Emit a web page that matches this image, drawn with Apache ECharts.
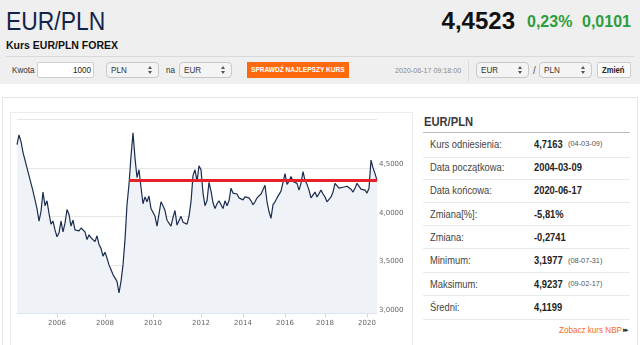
<!DOCTYPE html>
<html>
<head>
<meta charset="utf-8">
<script src="https://cdn.jsdelivr.net/npm/echarts@6/dist/echarts.min.js"></script>
<style>
body{margin:0;width:640px;height:345px;overflow:hidden;background:#fff;font-family:'Liberation Sans',Arial,sans-serif;position:relative}
.t{position:absolute;white-space:nowrap;line-height:1;transform-origin:0 50%}
.box{position:absolute;box-sizing:border-box}
.sel{position:absolute;box-sizing:border-box;height:16px;top:62px;border:1px solid #c8c8c8;border-radius:4px;background:#f4f4f4}
.sel::before{content:'';position:absolute;right:6px;top:3px;border-left:2.5px solid transparent;border-right:2.5px solid transparent;border-bottom:3px solid #555}
.sel::after{content:'';position:absolute;right:6px;top:8px;border-left:2.5px solid transparent;border-right:2.5px solid transparent;border-top:3px solid #555}
.lab{font-size:11px;color:#444;transform:scaleX(.85)}
.val{font-size:11px;color:#222;font-weight:bold;transform:scaleX(.85)}
.sm{font-size:8px;color:#555;transform:scaleX(.92)}
.sep{position:absolute;left:423px;width:207px;height:1px;background:#e9e9e9}
#chart{position:absolute;left:0;top:0;width:640px;height:345px;z-index:5;pointer-events:none}
</style>
</head>
<body>
<!-- header -->
<div class="box" style="left:0;top:0;width:640px;height:84px;background:#efefef"></div>
<div class="t" style="left:6px;top:8px;font-size:26px;color:#12244a;transform:scaleX(.88)">EUR/PLN</div>
<div class="t" style="left:6px;top:40px;font-size:10.5px;font-weight:bold;color:#111">Kurs EUR/PLN FOREX</div>
<div class="t" style="right:125px;top:9px;font-size:24px;font-weight:bold;color:#111;transform-origin:100% 50%">4,4523</div>
<div class="t" style="left:527px;top:14px;font-size:16px;font-weight:bold;color:#2e9d3c">0,23%</div>
<div class="t" style="left:582px;top:14px;font-size:16px;font-weight:bold;color:#2e9d3c">0,0101</div>
<div class="box" style="left:6px;top:56px;width:628px;height:1px;background:#d9d9d9"></div>

<!-- controls -->
<div class="t" style="left:12px;top:65.5px;font-size:9px;color:#333;transform:scaleX(.9)">Kwota</div>
<div class="box" style="left:37px;top:62px;width:57px;height:16px;background:#fff;border:1px solid #cfcfcf;border-radius:2px"></div>
<div class="t" style="right:549px;top:65.5px;font-size:9px;color:#222;transform-origin:100% 50%;transform:scaleX(.9)">1000</div>
<div class="sel" style="left:106px;width:53px"></div>
<div class="t" style="left:111px;top:65.5px;font-size:9px;color:#333;transform:scaleX(.9)">PLN</div>
<div class="t" style="left:165.5px;top:65.5px;font-size:9px;color:#333;transform:scaleX(.9)">na</div>
<div class="sel" style="left:179px;width:53px"></div>
<div class="t" style="left:184px;top:65.5px;font-size:9px;color:#333;transform:scaleX(.9)">EUR</div>
<div class="box" style="left:247px;top:62px;width:102px;height:16px;background:#ff6a0e"></div>
<div class="t" style="left:251px;top:66px;font-size:8px;font-weight:bold;color:#fff;transform:scaleX(.82)">SPRAWDŹ NAJLEPSZY KURS</div>
<div class="t" style="left:395px;top:67px;font-size:8px;color:#8a8a8a;transform:scaleX(.89)">2020-06-17 09:18:00</div>
<div class="box" style="left:468px;top:60px;width:1px;height:22px;background:#dcdcdc"></div>
<div class="sel" style="left:476px;width:53px"></div>
<div class="t" style="left:481px;top:65.5px;font-size:9px;color:#333;transform:scaleX(.9)">EUR</div>
<div class="t" style="left:533px;top:65.5px;font-size:10px;color:#555">/</div>
<div class="sel" style="left:539px;width:53px"></div>
<div class="t" style="left:544px;top:65.5px;font-size:9px;color:#333;transform:scaleX(.9)">PLN</div>
<div class="box" style="left:597px;top:62px;width:34px;height:16px;background:#fafafa;border:1px solid #cccccc;border-radius:2px"></div>
<div class="t" style="left:602px;top:66px;font-size:8.5px;font-weight:bold;color:#222;transform:scaleX(.9)">Zmień</div>

<!-- containers -->
<div class="box" style="left:2px;top:97px;width:636px;height:270px;border:1.5px solid #e6e6e6;background:#fff"></div>
<div class="box" style="left:10px;top:112px;width:403px;height:260px;border:1px solid #ececec;background:#fff"></div>

<!-- right panel -->
<div class="t" style="left:424px;top:115px;font-size:13px;font-weight:bold;color:#3a3a3a;transform:scaleX(.86)">EUR/PLN</div>
<div class="box" style="left:423px;top:132px;width:207px;height:1px;background:#bcbcbc"></div>

<div class="t lab" style="left:430px;top:138.8px">Kurs odniesienia:</div>
<div class="t val" style="left:534px;top:138.8px">4,7163</div>
<div class="t sm" style="left:568px;top:140.3px">(04-03-09)</div>
<div class="sep" style="top:156.5px"></div>

<div class="t lab" style="left:430px;top:162.1px">Data początkowa:</div>
<div class="t val" style="left:534px;top:162.1px">2004-03-09</div>
<div class="sep" style="top:179.3px"></div>

<div class="t lab" style="left:430px;top:185.4px">Data końcowa:</div>
<div class="t val" style="left:534px;top:185.4px">2020-06-17</div>
<div class="sep" style="top:202px"></div>

<div class="t lab" style="left:430px;top:208.7px">Zmiana[%]:</div>
<div class="t val" style="left:534px;top:208.7px">-5,81%</div>
<div class="sep" style="top:225px"></div>

<div class="t lab" style="left:430px;top:232px">Zmiana:</div>
<div class="t val" style="left:534px;top:232px">-0,2741</div>
<div class="sep" style="top:248px"></div>

<div class="t lab" style="left:430px;top:255.3px">Minimum:</div>
<div class="t val" style="left:534px;top:255.3px">3,1977</div>
<div class="t sm" style="left:568px;top:256.8px">(08-07-31)</div>
<div class="sep" style="top:271.7px"></div>

<div class="t lab" style="left:430px;top:278.5px">Maksimum:</div>
<div class="t val" style="left:534px;top:278.5px">4,9237</div>
<div class="t sm" style="left:568px;top:280px">(09-02-17)</div>
<div class="sep" style="top:295px"></div>

<div class="t lab" style="left:430px;top:301.8px">Średni:</div>
<div class="t val" style="left:534px;top:301.8px">4,1199</div>
<div class="sep" style="top:319px"></div>

<div class="t" style="left:559px;top:325.5px;font-size:9px;color:#f26a2a;transform:scaleX(.9)">Zobacz kurs NBP</div>
<div class="t" style="left:623px;top:326px;font-size:7px;color:#333;letter-spacing:-2px">▸▸</div>

<div id="chart"></div>
<script>
// EUR/PLN exchange rate at regular steps
const rates = [
  4.74, 4.84, 4.77, 4.66, 4.58, 4.50, 4.42, 4.34, 4.26, 4.17,
  4.08, 3.95, 4.05, 4.25, 4.11, 4.16, 4.03, 3.92, 3.95, 3.86,
  3.79, 3.83, 3.95, 3.84, 3.93, 4.07, 4.02, 3.90, 3.96, 3.86,
  3.84, 3.85, 3.88, 3.88, 3.84, 3.76, 3.81, 3.78, 3.79, 3.74,
  3.80, 3.71, 3.67, 3.59, 3.63, 3.57, 3.50, 3.45, 3.40, 3.38,
  3.33, 3.21, 3.33, 3.50, 3.76, 4.12, 4.33, 4.62, 4.86, 4.60,
  4.40, 4.48, 4.30, 4.13, 4.20, 4.15, 4.21, 4.08, 4.09, 4.00,
  3.90, 3.88, 4.15, 4.11, 4.06, 3.96, 3.94, 3.90, 3.99, 4.06,
  3.91, 3.90, 4.00, 3.94, 3.96, 3.92, 4.00, 4.15, 4.42, 4.48,
  4.36, 4.52, 4.48, 4.24, 4.11, 4.16, 4.35, 4.26, 4.14, 4.08,
  4.13, 4.16, 4.12, 4.08, 4.16, 4.11, 4.16, 4.29, 4.24, 4.24,
  4.23, 4.19, 4.20, 4.17, 4.20, 4.21, 4.19, 4.16, 4.12, 4.15,
  4.19, 4.21, 4.23, 4.24, 4.32, 4.15, 4.05, 3.98, 4.12, 4.15,
  4.19, 4.18, 4.26, 4.28, 4.44, 4.33, 4.36, 4.41, 4.36, 4.37,
  4.34, 4.27, 4.34, 4.46, 4.37, 4.33, 4.27, 4.19, 4.20, 4.25,
  4.20, 4.20, 4.27, 4.23, 4.20, 4.15, 4.14, 4.20, 4.25, 4.34,
  4.36, 4.29, 4.30, 4.30, 4.28, 4.31, 4.29, 4.28, 4.25, 4.29,
  4.34, 4.32, 4.28, 4.26, 4.27, 4.24, 4.29, 4.58, 4.50, 4.44,
  4.37
];
// sample index -> decimal year (the site's date axis is not uniform)
const dateAnchors = [[0, 2004.2], [20, 2006], [44, 2008], [68, 2010], [92, 2012],
                     [113, 2014], [134, 2016], [154, 2018], [175, 2020], [180, 2020.46]];
const refLevel = 4.37;        // red reference line
const refStart = '2009-01';
const yTicks = [3.0, 3.5, 4.0, 4.5, 5.0];

function dateOf(i) {
  for (let k = 0; k < dateAnchors.length - 1; k++) {
    const [i0, y0] = dateAnchors[k], [i1, y1] = dateAnchors[k + 1];
    if (i >= i0 && i <= i1) {
      const d = y0 + (i - i0) / (i1 - i0) * (y1 - y0);
      const y = Math.floor(d + 1e-9);
      const frac = Math.max(0, d - y);
      const t = Date.UTC(y, 0, 1) + Math.round(frac * 365 * 86400000);
      return new Date(t).toISOString().slice(0, 10);
    }
  }
}
const categories = rates.map((_, i) => dateOf(i));
const isEvenYearStart = (i) => i > 0 &&
  categories[i].slice(0, 4) !== categories[i - 1].slice(0, 4) &&
  (+categories[i].slice(0, 4)) % 2 === 0;
const refStartCat = categories.find(c => c >= refStart);

const chart = echarts.init(document.getElementById('chart'));
chart.setOption({
  animation: false,
  backgroundColor: 'transparent',
  grid: { left: 17, right: 263, top: 119.3, bottom: 31.6 },
  xAxis: {
    type: 'category',
    data: categories,
    boundaryGap: false,
    axisLine: { lineStyle: { color: '#ccd6eb', width: 1 } },
    axisTick: { show: true, length: 4, interval: (i) => isEvenYearStart(i), lineStyle: { color: '#ccd6eb' } },
    axisLabel: {
      interval: (i) => isEvenYearStart(i),
      formatter: (v) => v.slice(0, 4),
      fontFamily: 'DejaVu Sans', fontSize: 7, color: '#666', margin: 6
    },
    splitLine: { show: false }
  },
  yAxis: {
    type: 'value',
    position: 'right',
    min: yTicks[0], max: yTicks[yTicks.length - 1], interval: 0.5,
    axisLine: { show: false }, axisTick: { show: false },
    splitLine: { lineStyle: { color: '#e6e6e6', width: 1 } },
    axisLabel: {
      showMaxLabel: false,
      formatter: (v) => v.toFixed(4).replace('.', ','),
      fontFamily: 'DejaVu Sans', fontSize: 7, color: '#666', margin: 2,
      verticalAlign: 'bottom'
    }
  },
  series: [{
    type: 'line',
    data: rates,
    symbol: 'none',
    lineStyle: { color: '#1b2d4f', width: 1.2 },
    areaStyle: { color: '#eff2f6', opacity: 1, origin: 'start' },
    markLine: {
      silent: true,
      symbol: ['none', 'none'],
      label: { show: false },
      lineStyle: { color: '#e8202a', width: 3, type: 'solid' },
      data: [[{ coord: [refStartCat, refLevel] }, { coord: [categories[categories.length - 1], refLevel] }]]
    }
  }]
});
</script>
</body>
</html>
